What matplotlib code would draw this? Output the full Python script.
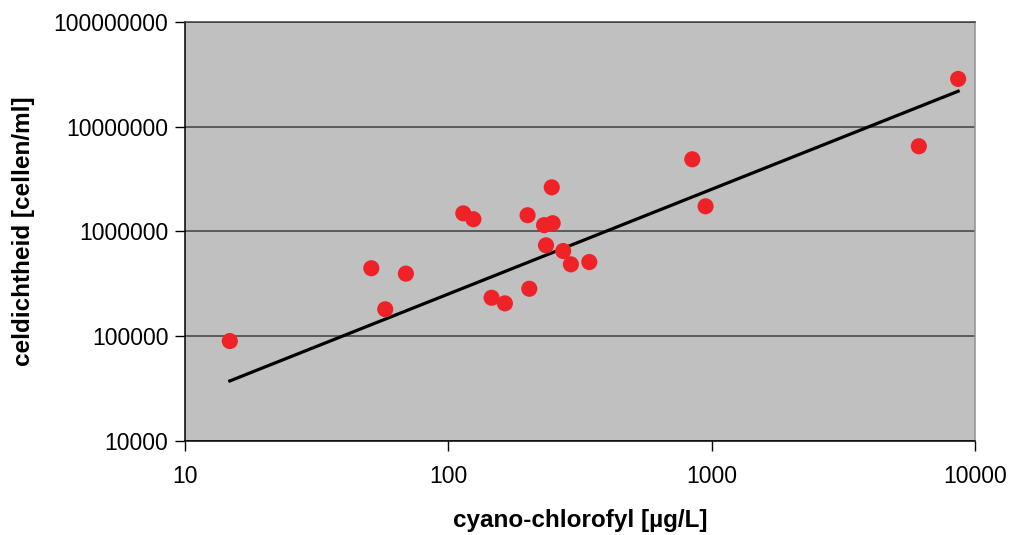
import numpy as np
import matplotlib.pyplot as plt
from matplotlib.ticker import FixedLocator, NullLocator, FuncFormatter

# meetpunten
chl = [14.8, 51, 57.6, 69, 114, 124.5, 146, 164, 200, 203, 231, 235, 247, 249,
       273, 292, 343, 844, 948, 6120, 8630]
cells = [90000, 446000, 181000, 396000, 1490000, 1310000, 233000, 206000,
         1430000, 284000, 1150000, 738000, 2640000, 1200000, 651000, 486000,
         511000, 4890000, 1740000, 6510000, 28600000]

# machtstrendlijn y = a * x^b
trend_a = 2530
trend_b = 1.0

plt.rcParams['font.family'] = ['Liberation Sans', 'DejaVu Sans']

fig = plt.figure(figsize=(10.13, 5.35), dpi=100)
ax = fig.add_axes([0.1826, 0.1757, 0.7799, 0.7832])
ax.set_facecolor('#C0C0C0')

ax.set_xscale('log')
ax.set_yscale('log')
ax.set_xlim(10, 10000)
ax.set_ylim(1e4, 1e8)

xt = np.geomspace(min(chl), max(chl), 200)
ax.plot(xt, trend_a * xt ** trend_b, color='black', linewidth=2.3, zorder=2)
ax.scatter(chl, cells, s=135, color='#EE2227', edgecolors='none', zorder=3)

ax.xaxis.set_major_locator(FixedLocator([10, 100, 1000, 10000]))
ax.yaxis.set_major_locator(FixedLocator([1e4, 1e5, 1e6, 1e7, 1e8]))
ax.xaxis.set_minor_locator(NullLocator())
ax.yaxis.set_minor_locator(NullLocator())
fmt = FuncFormatter(lambda v, p: f"{int(round(v))}")
ax.xaxis.set_major_formatter(fmt)
ax.yaxis.set_major_formatter(fmt)

ax.yaxis.grid(True, color='#404040', linewidth=1.1)
ax.set_axisbelow(True)

ax.tick_params(axis='both', direction='out', length=7, width=1, labelsize=16.5, colors='black')
ax.tick_params(axis='x', pad=10)
ax.tick_params(axis='y', pad=5)

ax.spines['left'].set_color('black')
ax.spines['bottom'].set_color('black')
ax.spines['top'].set_color('#404040')
ax.spines['right'].set_color('#909090')
for s in ax.spines.values():
    s.set_linewidth(1.1)

ax.set_xlabel('cyano-chlorofyl [µg/L]', fontsize=17.5, fontweight='bold')
ax.xaxis.set_label_coords(0.5, -0.163)
ax.set_ylabel('celdichtheid [cellen/ml]', fontsize=17.5, fontweight='bold')
ax.yaxis.set_label_coords(-0.19, 0.5)

fig.savefig('out.png', dpi=100)
